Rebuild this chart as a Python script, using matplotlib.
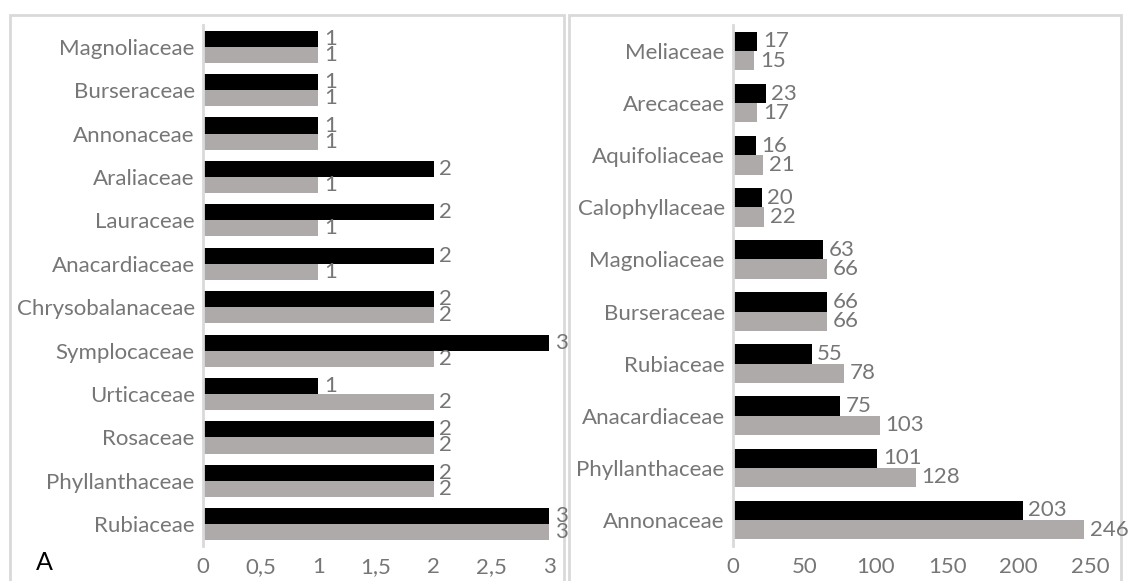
import matplotlib.pyplot as plt
from matplotlib.patches import Rectangle
import numpy as np

plt.rcParams['font.family'] = ['Lato', 'DejaVu Sans']

left_families = ["Magnoliaceae", "Burseraceae", "Annonaceae", "Araliaceae", "Lauraceae",
                 "Anacardiaceae", "Chrysobalanaceae", "Symplocaceae", "Urticaceae",
                 "Rosaceae", "Phyllanthaceae", "Rubiaceae"]
left_black = [1, 1, 1, 2, 2, 2, 2, 3, 1, 2, 2, 3]
left_gray = [1, 1, 1, 1, 1, 1, 2, 2, 2, 2, 2, 3]
left_ticks = [0, 0.5, 1, 1.5, 2, 2.5, 3]
left_ticklabels = ["0", "0,5", "1", "1,5", "2", "2,5", "3"]

right_families = ["Meliaceae", "Arecaceae", "Aquifoliaceae", "Calophyllaceae", "Magnoliaceae",
                  "Burseraceae", "Rubiaceae", "Anacardiaceae", "Phyllanthaceae", "Annonaceae"]
right_black = [17, 23, 16, 20, 63, 66, 55, 75, 101, 203]
right_gray = [15, 17, 21, 22, 66, 66, 78, 103, 128, 246]
right_ticks = [0, 50, 100, 150, 200, 250]

BLACK = "#000000"
GRAY = "#AEAAAA"
TXT = "#767676"
FS = 16

fig = plt.figure(figsize=(11.28, 5.81), dpi=100)

# panel frames (drawn behind everything)
for x0, x1 in [(10, 564), (569, 1121)]:
    fig.patches.append(Rectangle((x0 / 1128, -0.05), (x1 - x0) / 1128, 1 - 15 / 581 + 0.05,
                                 transform=fig.transFigure, fill=False,
                                 edgecolor="#D9D9D9", linewidth=2, zorder=-1))


def panel(ax, names, black, gray, xmax, ticks, ticklabels):
    y = np.arange(len(names))
    h = 0.37
    b1 = ax.barh(y - h / 2, black, height=h, color=BLACK)
    b2 = ax.barh(y + h / 2, gray, height=h, color=GRAY)
    for t in ax.bar_label(b1, padding=4, color=TXT, fontsize=FS) + \
            ax.bar_label(b2, padding=4, color=TXT, fontsize=FS):
        t.set_clip_on(False)
        t.set_zorder(5)
    ax.set_yticks(y)
    ax.set_yticklabels(names, color=TXT, fontsize=FS)
    ax.set_ylim(len(names) - 0.5, -0.5)
    ax.set_xlim(0, xmax)
    ax.set_xticks(ticks)
    ax.set_xticklabels(ticklabels, color=TXT, fontsize=FS)
    ax.tick_params(length=0, pad=6)
    ax.tick_params(axis='x', pad=8)
    for s in ["top", "right", "bottom"]:
        ax.spines[s].set_visible(False)
    ax.spines["left"].set_color("#D9D9D9")
    ax.spines["left"].set_linewidth(2)
    ax.patch.set_alpha(0)


ax1 = fig.add_axes([203 / 1128, 1 - 546 / 581, 346 / 1128, 521 / 581])
panel(ax1, left_families, left_black, left_gray, 3, left_ticks, left_ticklabels)

ax2 = fig.add_axes([733 / 1128, 1 - 546 / 581, 357 / 1128, 521 / 581])
panel(ax2, right_families, right_black, right_gray, 250, right_ticks,
      [str(t) for t in right_ticks])

fig.text(36 / 1128, 1 - 563 / 581, "A", fontsize=18, color="black", va="center")

fig.savefig("out.png", dpi=100)
